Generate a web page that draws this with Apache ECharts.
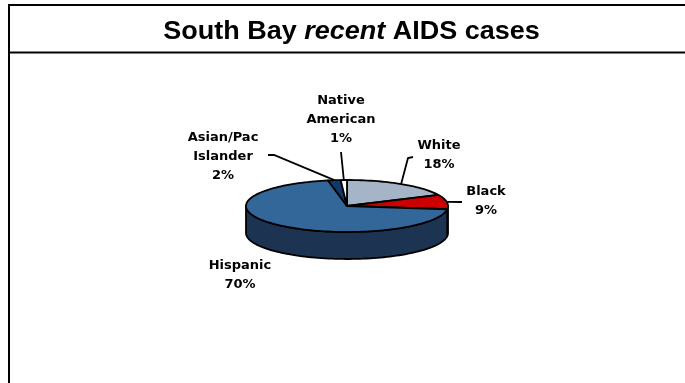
<!DOCTYPE html>
<html><head><meta charset="utf-8">
<script src="https://cdn.jsdelivr.net/npm/echarts@6/dist/echarts.min.js"></script>
<style>html,body{margin:0;padding:0;background:#fff}#c{width:685px;height:383px}</style>
</head><body><div id="c"></div>
<script>
// ---- data ----
const categories = ['White', 'Black', 'Hispanic', 'Asian/Pac Islander', 'Native American'];
const labelNames = ['White', 'Black', 'Hispanic', 'Asian/Pac\nIslander', 'Native\nAmerican'];
const values = [18, 9, 70, 2, 1];
const titleParts = ['South Bay ', 'recent', ' AIDS cases'];

// ---- styles / layout ----
const topColors  = ['#A6B4C7', '#CC0000', '#336699', '#0E3B6B', '#FFFFFF'];
const sideColors = ['#6B7788', '#7A0000', '#1C3452', '#082440', '#BFBFBF'];
const PIE = { cx: 347, cy: 206, rx: 101, ry: 26, depth: 27 };
const labelLayout = [
  { x: 439, y: 155.5, lead: [[413, 157], [408, 158]] },
  { x: 486, y: 201.5, lead: [[462, 202]] },
  { x: 240, y: 275.5, lead: null },
  { x: 223, y: 156.5, lead: [[268, 155], [274, 155]] },
  { x: 341, y: 120,   lead: [[341, 152]] }
];
const LABEL_FONT = 'bold 13px "DejaVu Sans"';

const total = values.reduce((a, b) => a + b, 0);
const startAngles = [];
values.reduce((acc, v) => { startAngles.push(acc); return acc + v; }, 0);

function pt(deg, dy) {
  const r = deg * Math.PI / 180;
  return [PIE.cx + PIE.rx * Math.sin(r), PIE.cy - PIE.ry * Math.cos(r) + (dy || 0)];
}
function arc(a, b, dy) {
  const pts = [];
  const n = Math.max(2, Math.ceil(Math.abs(b - a) / 2));
  for (let k = 0; k <= n; k++) pts.push(pt(a + (b - a) * k / n, dy));
  return pts;
}
function angles(idx, api) {
  const a = startAngles[idx] / total * 360;
  const b = a + api.value(1) / total * 360;
  return [a, b];
}

const data = values.map((v, i) => ({ name: categories[i], value: [i, v] }));

function renderSide(params, api) {
  const [a, b] = angles(params.dataIndex, api);
  const lo = Math.max(a, 90), hi = Math.min(b, 270);
  if (hi <= lo) return null;
  const top = arc(lo, hi, 0);
  const bot = arc(lo, hi, PIE.depth).reverse();
  return {
    type: 'polygon',
    shape: { points: top.concat(bot) },
    style: { fill: sideColors[params.dataIndex], stroke: '#000', lineWidth: 1.8, lineJoin: 'round' }
  };
}
function renderTop(params, api) {
  const [a, b] = angles(params.dataIndex, api);
  const pts = [[PIE.cx, PIE.cy]].concat(arc(a, b, 0));
  return {
    type: 'polygon',
    shape: { points: pts },
    style: { fill: topColors[params.dataIndex], stroke: '#000', lineWidth: 1.8, lineJoin: 'round' }
  };
}
function renderLabel(params, api) {
  const i = params.dataIndex;
  const [a, b] = angles(i, api);
  const L = labelLayout[i];
  const pct = Math.round(api.value(1) / total * 100) + '%';
  const children = [{
    type: 'text',
    style: {
      text: labelNames[i] + '\n' + pct, x: L.x, y: L.y,
      align: 'center', verticalAlign: 'middle',
      font: LABEL_FONT, lineHeight: 19, fill: '#000'
    }
  }];
  if (L.lead) {
    const edge = pt((a + b) / 2, 0);
    children.push({
      type: 'polyline',
      shape: { points: L.lead.concat([edge]) },
      style: { stroke: '#000', lineWidth: 1.8, fill: null }
    });
  }
  return { type: 'group', children };
}

const chart = echarts.init(document.getElementById('c'), null, { renderer: 'canvas' });
chart.setOption({
  backgroundColor: '#fff',
  animation: false,
  graphic: [
    { type: 'rect', shape: { x: 9, y: 5, width: 720, height: 420 }, style: { fill: null, stroke: '#000', lineWidth: 2 }, z: 10 },
    { type: 'line', shape: { x1: 9, y1: 52.5, x2: 690, y2: 52.5 }, style: { stroke: '#000', lineWidth: 2 }, z: 10 },
    {
      type: 'text', x: 351.5, y: 32, z: 10, scaleX: 1.08,
      style: {
        text: '{n|' + titleParts[0] + '}{i|' + titleParts[1] + '}{n|' + titleParts[2] + '}',
        align: 'center', verticalAlign: 'middle',
        rich: {
          n: { font: 'bold 25px "Liberation Sans"', fill: '#000' },
          i: { font: 'italic bold 25px "Liberation Sans"', fill: '#000' }
        }
      }
    }
  ],
  series: [
    { type: 'custom', coordinateSystem: 'none', z: 1, data, renderItem: renderSide, silent: true },
    { type: 'custom', coordinateSystem: 'none', z: 2, data, renderItem: renderTop, silent: true },
    { type: 'custom', coordinateSystem: 'none', z: 3, data, renderItem: renderLabel, silent: true }
  ]
});
</script>
</body></html>
